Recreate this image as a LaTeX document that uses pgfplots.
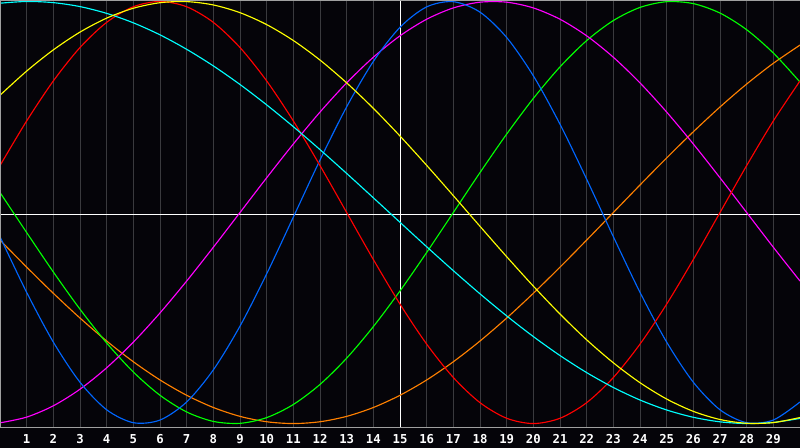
\documentclass[border=0pt]{standalone}
\usepackage{fontspec}
\usepackage{pgfplots}
\usepackage{pgfplotstable}
\pgfplotsset{compat=1.18}
\newfontfamily\monob{DejaVu Sans Mono}
\definecolor{bgc}{RGB}{5,4,9}
\definecolor{gridc}{RGB}{58,58,62}
\definecolor{borderc}{RGB}{160,160,160}
\definecolor{ccyan}{RGB}{0,255,255}
\definecolor{cyellow}{RGB}{255,255,0}
\definecolor{cred}{RGB}{255,0,0}
\definecolor{cblue}{RGB}{0,102,255}
\definecolor{cmag}{RGB}{255,0,255}
\definecolor{cgreen}{RGB}{0,255,0}
\definecolor{corange}{RGB}{255,128,0}

\pgfplotstableread{
x  c       yl      r       b       m       g       o
0  0.9918  0.5556  0.2225 -0.1146 -0.9966  0.0950 -0.1305
1  1.0000  0.6702  0.4339 -0.3784 -0.9694 -0.0950 -0.2588
2  0.9945  0.7706  0.6235 -0.6140 -0.9158 -0.2817 -0.3827
3  0.9757  0.8549  0.7818 -0.8042 -0.8372 -0.4582 -0.5000
4  0.9436  0.9211  0.9010 -0.9347 -0.7357 -0.6181 -0.6088
5  0.8988  0.9678  0.9749 -0.9959 -0.6142 -0.7557 -0.7071
6  0.8419  0.9941  1.0000 -0.9833 -0.4759 -0.8660 -0.7934
7  0.7733  0.9993  0.9749 -0.8977 -0.3247 -0.9450 -0.8660
8  0.6947  0.9835  0.9010 -0.7455 -0.1646 -0.9898 -0.9239
9  0.6066  0.9469  0.7818 -0.5383  0.0000 -0.9989 -0.9659
10 0.5100  0.8904  0.6235 -0.2907  0.1646 -0.9718 -0.9914
11 0.4067  0.8150  0.4339 -0.0218  0.3247 -0.9096 -1.0000
12 0.2979  0.7224  0.2225  0.2487  0.4759 -0.8146 -0.9914
13 0.1851  0.6143  0.0000  0.5008  0.6142 -0.6901 -0.9659
14 0.0698  0.4937 -0.2225  0.7157  0.7357 -0.5406 -0.9239
15 -0.0465 0.3624 -0.4339  0.8777  0.8372 -0.3717 -0.8660
16 -0.1622 0.2235 -0.6235  0.9744  0.9158 -0.1893 -0.7934
17 -0.2756 0.0799 -0.7818  0.9989  0.9694  0.0000 -0.7071
18 -0.3853 -0.0654 -0.9010 0.9494  0.9966  0.1893 -0.6088
19 -0.4899 -0.2093 -0.9749 0.8294  0.9966  0.3717 -0.5000
20 -0.5878 -0.3488 -1.0000 0.6477  0.9694  0.5406 -0.3827
21 -0.6777 -0.4810 -0.9749 0.4183  0.9158  0.6901 -0.2588
22 -0.7585 -0.6032 -0.9010 0.1578  0.8372  0.8146 -0.1305
23 -0.8290 -0.7120 -0.7818 -0.1144 0.7357  0.9096  0.0000
24 -0.8884 -0.8064 -0.6235 -0.3782 0.6142  0.9718  0.1305
25 -0.9357 -0.8838 -0.4339 -0.6140 0.4759  0.9989  0.2588
26 -0.9703 -0.9422 -0.2225 -0.8042 0.3247  0.9898  0.3827
27 -0.9918 -0.9808  0.0000 -0.9347 0.1646  0.9450  0.5000
28 -0.9999 -0.9987  0.2225 -0.9959 0.0000  0.8660  0.6088
29 -0.9945 -0.9955  0.4339 -0.9833 -0.1646 0.7557  0.7071
30 -0.9757 -0.9713  0.6235 -0.8977 -0.3247 0.6181  0.7934
}\curves

\begin{document}
\begin{tikzpicture}
\fill[bgc] (0,-0.4) rectangle (16,8.56);
\begin{axis}[
  at={(0,0)}, anchor=south west,
  scale only axis, width=16cm, height=8.56cm,
  xmin=0, xmax=30, ymin=-1.021, ymax=1.007,
  axis line style={draw=none},
  xtick={1,...,29}, ytick=\empty,
  major tick length=0pt,
  xmajorgrids,
  grid style={color=gridc, line width=0.55pt},
  xticklabel style={text=white, font=\monob\fontsize{7}{7}\selectfont\bfseries, anchor=north, inner sep=0pt, yshift=-0.13cm},
  /pgf/number format/assume math mode=true,
  every axis plot/.append style={line width=0.65pt, smooth, no markers},
]
\draw[white, line width=0.5pt] (axis cs:15,-1.021) -- (axis cs:15,1.007);
\draw[white, line width=0.5pt] (axis cs:0,-0.007) -- (axis cs:30,-0.007);
\addplot[corange] table[x=x, y=o] {\curves};
\addplot[cgreen] table[x=x, y=g] {\curves};
\addplot[cmag] table[x=x, y=m] {\curves};
\addplot[cblue] table[x=x, y=b] {\curves};
\addplot[cred] table[x=x, y=r] {\curves};
\addplot[ccyan] table[x=x, y=c] {\curves};
\addplot[cyellow] table[x=x, y=yl] {\curves};
\draw[borderc, line width=0.6pt] (rel axis cs:0,0) -- (rel axis cs:1,0);
\draw[borderc, line width=0.6pt] (rel axis cs:0,0) -- (rel axis cs:0,1) -- (rel axis cs:1,1);
\end{axis}
\pgfresetboundingbox
\path (0,-0.4) rectangle (16,8.56);
\end{tikzpicture}
\end{document}
